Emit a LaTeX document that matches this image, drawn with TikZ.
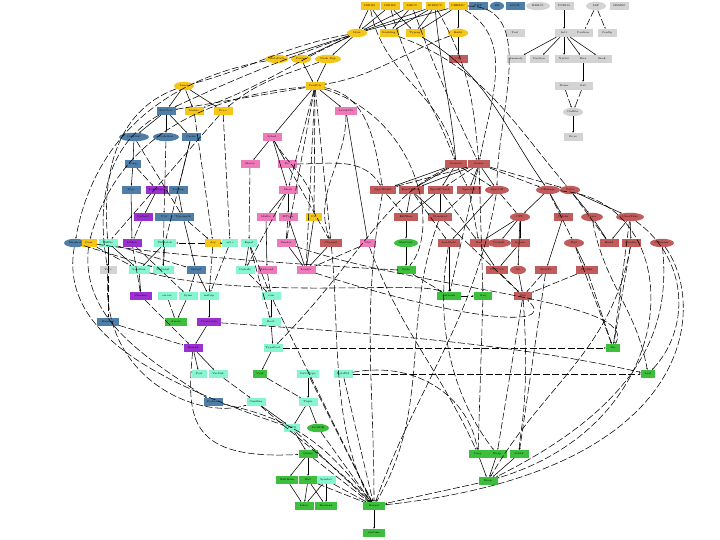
\documentclass[tikz,border=0pt]{standalone}
\usetikzlibrary{shapes.geometric,arrows.meta}
\definecolor{cY}{HTML}{F5C518}
\definecolor{cB}{HTML}{4F7FA8}
\definecolor{cG}{HTML}{D3D3D3}
\definecolor{cR}{HTML}{C25B5B}
\definecolor{cP}{HTML}{EE7AB9}
\definecolor{cC}{HTML}{87F5CF}
\definecolor{cU}{HTML}{9B30D0}
\definecolor{cN}{HTML}{3DBE3D}
\begin{document}
\begin{tikzpicture}[x=1pt,y=-1pt,
 lab/.style={font=\fontsize{2.6}{3}\selectfont, text=black},
 bx/.style={lab,rectangle,inner sep=1pt,minimum height=8pt,minimum width=19pt},
 el/.style={lab,ellipse,inner sep=0.4pt,minimum height=8.5pt,minimum width=20pt},
 fy/.style={fill=cY}, fb/.style={fill=cB}, fg/.style={fill=cG}, fr/.style={fill=cR},
 fp/.style={fill=cP}, fc/.style={fill=cC}, fu/.style={fill=cU}, fn/.style={fill=cN},
 ln/.style={line width=0.55pt,-{Stealth[length=1.8pt,width=1.4pt]}},
 dl/.style={ln,dash pattern=on 7pt off 2.5pt}]
\useasboundingbox (0,0) rectangle (720,540);
% ---- row 6
\node[bx,fy] (t1) at (370,6) {IDRIS1};
\node[bx,fy] (t2) at (390,6) {IDRIS2};
\node[bx,fy] (t3) at (412,6) {LIBCC};
\node[bx,fy] (t4) at (435,6) {IDRISCC};
\node[bx,fy] (t5) at (458,6) {CHEZSC};
\node[bx,fb] (t6) at (478,6) {GMP};
\node[el,fb,minimum width=14pt] (t7) at (497,6) {RB};
\node[bx,fb] (t8) at (515,6) {LLVM};
\node[el,fg,minimum width=24pt] (t9) at (538,6) {HDBC1};
\node[bx,fg] (t10) at (564,6) {UNIX10};
\node[el,fg] (t11) at (596,6) {LSP};
\node[bx,fg] (t12) at (619,6) {MSMS2};
% ---- row 33
\node[el,fy] (idris) at (357,33) {Idris};
\node[bx,fy] (bld) at (389,33) {Building};
\node[bx,fy] (typ) at (415,33) {Typing};
\node[el,fy] (build) at (458,33) {Build};
\node[bx,fg] (pool) at (515,33) {Pool};
\node[bx,fg] (intl) at (564,33) {Intl};
\node[bx,fg] (caut) at (583,33) {Caution};
\node[bx,fg] (conf) at (607,33) {Config};
% ---- row 59
\node[el,fy] (meta) at (277,59) {MetaData};
\node[el,fy] (pars) at (301,59) {Parser};
\node[el,fy,minimum width=26pt] (ndep) at (328,59) {Node Dep};
\node[bx,fr] (cg) at (458,59) {CG};
\node[bx,fg] (anom) at (516,59) {Anomaly};
\node[bx,fg] (days) at (539,59) {DaySyn};
\node[bx,fg] (nyg) at (564,59) {NyGet};
\node[bx,fg] (maxn) at (583,59) {Max};
\node[bx,fg] (brok) at (602,59) {Brok};
% ---- row 86
\node[el,fy] (lexer) at (184,86) {Lexer};
\node[bx,fy] (pass) at (315,86) {PassFile};
\node[bx,fg] (dome) at (564,86) {Dome};
\node[bx,fg] (out) at (583,86) {Out};
% ---- row 111
\node[bx,fb] (ttool) at (166,111) {TestTool};
\node[bx,fy] (linker) at (194,111) {Linker};
\node[bx,fy] (prec) at (223,111) {Pre.c};
\node[bx,fp,minimum width=22pt] (latch) at (346,111) {LatchCtx};
\node[el,fg] (outf) at (573,112) {OutFor};
% ---- row 137
\node[el,fb,minimum width=30pt] (core) at (134,137) {Core.Rst};
\node[el,fb,minimum width=26pt] (codeg) at (166,137) {CodeGen};
\node[bx,fb] (cache) at (191,137) {Cache};
\node[bx,fp] (sched) at (272,137) {Sched};
\node[bx,fg] (fers) at (573,137) {Fe.rs};
% ---- row 164
\node[bx,fb,minimum width=16pt] (lang) at (133,164) {Lang};
\node[bx,fp] (macro) at (250,164) {Macro};
\node[bx,fp] (fo) at (287,164) {Fo};
\node[bx,fr,minimum width=22pt] (red1) at (456,164) {Convert};
\node[bx,fr,minimum width=22pt] (red2) at (479,164) {Lower};
% ---- row 190
\node[bx,fb] (type) at (131,190) {Type};
\node[bx,fu,minimum width=22pt] (lazy) at (157,190) {LazyFence};
\node[bx,fb] (testg) at (178,190) {Testing};
\node[bx,fp] (ident) at (288,190) {Ident};
\node[bx,fr,minimum width=26pt] (specw) at (383,190) {SpecWorld};
\node[bx,fr,minimum width=25pt] (exact) at (411,190) {ExactMatch};
\node[bx,fr,minimum width=25pt] (specm) at (440,190) {SpecMCheck};
\node[bx,fr,minimum width=24pt] (spect) at (469,190) {Spectral};
\node[el,fr,minimum width=24pt] (spech) at (497,190) {SpecCH};
\node[el,fr,minimum width=24pt] (crun) at (548,190) {CRunner};
\node[el,fr] (color) at (570,190) {Color};
% ---- row 217
\node[bx,fu] (upn) at (143,217) {UpNext};
\node[bx,fb] (util) at (164,217) {Util};
\node[bx,fb,minimum width=21pt] (tmath) at (183,217) {Typemath};
\node[bx,fp] (idxr) at (266,217) {IdxRe};
\node[bx,fp] (mtype) at (288,217) {MType};
\node[bx,fy,minimum width=16pt] (par) at (314,217) {Par};
\node[bx,fr,minimum width=24pt] (extsh) at (406,217) {ExtShoe};
\node[bx,fr,minimum width=24pt] (stand) at (440,217) {Standard};
\node[el,fr] (cpu) at (520,217) {CPU};
\node[bx,fr] (cmake) at (563,217) {CMake};
\node[el,fr,minimum width=22pt] (cover) at (592,217) {Cover};
\node[el,fr,minimum width=28pt] (ctake) at (630,217) {CloseTake};
% ---- row 243
\node[el,fb,minimum width=22pt] (marsh) at (75,243) {Marshal};
\node[bx,fy,minimum width=15pt] (item) at (89,243) {Item};
\node[bx,fc] (pfile) at (108,243) {PkFile};
\node[bx,fu] (iomon) at (132,243) {IoMon};
\node[bx,fc,minimum width=22pt] (pmatch) at (165,243) {PkMatch};
\node[bx,fy,minimum width=16pt] (ary) at (213,243) {Ary};
\node[bx,fc,minimum width=16pt] (ast) at (230,243) {ast.c};
\node[bx,fc,minimum width=16pt] (equal) at (249,243) {Equal};
\node[bx,fp] (vendor) at (286,243) {Vendor};
\node[bx,fr,minimum width=22pt] (chanl) at (331,243) {Channel};
\node[bx,fp,minimum width=16pt] (gel) at (368,243) {Gel};
\node[el,fn,minimum width=24pt] (fcont) at (406,243) {FunCont};
\node[bx,fr,minimum width=22pt] (lexst) at (449,243) {LexStats};
\node[bx,fr] (run) at (479,243) {Run};
\node[el,fr,minimum width=24pt] (consist) at (499,243) {Consist};
\node[bx,fr] (access) at (520,243) {Access};
\node[el,fr] (bpf) at (574,243) {Bpf};
\node[bx,fr] (rbuild) at (609,243) {Build};
\node[bx,fr] (qual) at (631,243) {Quality};
\node[el,fr,minimum width=24pt] (crun2) at (662,243) {CRunner};
% ---- row 270
\node[bx,fg,minimum width=17pt] (yacc) at (108,270) {Yacc};
\node[bx,fc,minimum width=21pt] (sbox) at (139,270) {Sandbox};
\node[bx,fc,minimum width=21pt] (nsub) at (163,270) {NuSubst};
\node[bx,fb] (onf) at (196,270) {Onfast};
\node[bx,fc] (orels) at (245,270) {OrderIs};
\node[bx,fp] (subst) at (267,270) {Subcard};
\node[bx,fp] (ludo) at (306,270) {Loader};
\node[bx,fn] (nodeg) at (406,270) {Node};
\node[bx,fr,minimum width=22pt] (cpuc) at (497,270) {CPUCalc};
\node[el,fr,minimum width=16pt] (sa) at (518,270) {Sa};
\node[bx,fr,minimum width=22pt] (slow) at (546,270) {SlowPa};
\node[bx,fr,minimum width=22pt] (prof) at (587,270) {Profiler};
% ---- row 296
\node[bx,fu,minimum width=22pt] (cheker) at (141,296) {Checker};
\node[bx,fc] (errs) at (167,296) {errors};
\node[bx,fc] (syms) at (188,296) {Syms};
\node[bx,fc] (mstrip) at (209,296) {mstrip};
\node[bx,fc] (cvm) at (271,296) {cvm};
\node[bx,fn,minimum width=24pt] (netw) at (449,296) {network};
\node[bx,fn,minimum width=18pt] (tree) at (483,296) {tree};
\node[bx,fr,minimum width=18pt] (dsl) at (523,296) {Dsl};
% ---- row 322
\node[bx,fb,minimum width=22pt] (memor) at (108,322) {Memory};
\node[bx,fn,minimum width=22pt] (arrow) at (176,322) {Arrow};
\node[bx,fu,minimum width=24pt] (consts) at (209,322) {Constants};
\node[bx,fc] (root) at (271,322) {Root};
% ---- row 348
\node[bx,fu] (monad) at (193,348) {Monad};
\node[bx,fc] (tpool) at (273,348) {TypePool};
\node[bx,fn,minimum width=14pt] (inc) at (613,348) {Inc};
% ---- row 374
\node[bx,fc,minimum width=15pt] (pair) at (199,374) {Pair};
\node[bx,fc] (vsub) at (218,374) {VarSub};
\node[bx,fn,minimum width=14pt] (void) at (260,374) {Void};
\node[bx,fc,minimum width=22pt] (dtype) at (308,374) {DataType};
\node[bx,fc] (dtfld) at (343,374) {DataFld};
\node[bx,fn,minimum width=14pt] (last) at (648,374) {Last};
% ---- row 402
\node[bx,fb] (prelu) at (213,402) {Prelude};
\node[bx,fc] (cmdln) at (256,402) {Cmdline};
\node[bx,fc] (tuple) at (308,402) {Tuple};
% ---- row 428
\node[bx,fc,minimum width=16pt] (fifo) at (292,428) {FIFO};
\node[el,fn,minimum width=22pt] (lcode) at (318,428) {LCODE};
% ---- row 454
\node[bx,fn] (queue) at (308,454) {Queue};
\node[bx,fn] (lazyg) at (478,454) {Lazy};
\node[bx,fn] (strap) at (497,454) {Strap};
\node[bx,fn] (scheds) at (519,454) {Sched};
% ---- row 480
\node[bx,fn,minimum width=22pt] (nullm) at (287,480) {NullMem};
\node[bx,fn] (buf) at (308,480) {Buf};
\node[bx,fc] (symb) at (326,480) {Symbol};
\node[bx,fn] (heap) at (488,481) {Heap};
% ---- row 506/533
\node[bx,fn] (infra) at (304,506) {Infra};
\node[bx,fn,minimum width=22pt] (backend) at (326,506) {Backend};
\node[bx,fn,minimum width=22pt] (kernel) at (374,506) {Kernel};
\node[bx,fn,minimum width=22pt] (runtime) at (374,533) {runtime};

% ===== solid edges
\foreach \a/\b in {t1/idris,t2/idris,t3/idris,t4/idris,t5/idris,t1/bld,t3/bld,t4/bld,t2/typ,t4/typ,t5/typ,t5/build,
 idris/meta,idris/pars,idris/ndep,pars/pass,ndep/pass,build/cg,t10/intl,
 intl/anom,intl/days,intl/nyg,intl/maxn,intl/brok,maxn/out,outf/fers,
 lexer/ttool,lexer/linker,lexer/prec,ttool/core,ttool/codeg,ttool/cache,core/lang,
 pass/latch,pass/sched,sched/macro,sched/fo,sched/ident,
 type/iomon,lazy/upn,testg/tmath,tmath/onf,pmatch/sbox,pmatch/nsub,
 mstrip/consts,consts/monad,monad/pair,monad/vsub,cvm/root,root/tpool,tpool/void,
 dtype/tuple,tuple/fifo,tuple/lcode,fifo/queue,queue/nullm,queue/buf,nullm/infra,buf/infra,buf/backend,
 symb/backend,symb/infra,kernel/runtime,lazyg/heap,strap/heap,scheds/heap,
 exact/extsh,specm/extsh,exact/stand,specm/stand,extsh/fcont,fcont/nodeg,
 cpu/run,cpu/consist,cpu/access,run/cpuc,access/cpuc,sa/dsl,bpf/prof,cover/rbuild,ctake/rbuild,ctake/qual,
 cmake/slow,spech/lexst,red1/exact,red1/specm,red2/spect,red2/spech,red1/specw,red2/exact,
 ident/idxr,ident/mtype,idxr/subst,mtype/ludo,vendor/ludo,par/ludo,chanl/ludo,
 ary/ast,equal/orels,pfile/yacc,pfile/sbox,onf/mstrip,syms/arrow,sbox/cheker,
 lang/type,cache/testg,crun/cpu,crun/cmake,color/cover,color/ctake,cpu/sa,lexst/netw,
 cmdln/fifo,latch/gel}
 \draw[ln] (\a) -- (\b);
% ===== dashed straight edges
\foreach \a/\b in {t11/caut,t11/conf,dome/outf,out/outf,
 red1/spect,red1/spech,red2/specw,red2/specm,red2/crun,red2/color,spect/stand,specw/extsh,
 pass/ident,pass/vendor,pass/par,pass/chanl,pass/ttool,pass/ludo,macro/equal,fo/chanl,
 ary/pmatch,ary/mstrip,ast/mstrip,equal/cvm,orels/cvm,subst/cvm,tmath/ary,util/nsub,upn/iomon,
 iomon/syms,iomon/cheker,item/sbox,marsh/nsub,pfile/onf,pfile/memor,onf/syms,cheker/monad,memor/monad,
 errs/arrow,gel/ludo,nodeg/netw,netw/tree,cpuc/dsl,slow/dsl,prof/dsl,qual/inc,prof/inc,ctake/inc,
 red2/netw,red2/tree,stand/dsl,dtfld/kernel,dtype/kernel,symb/kernel,heap/kernel,fifo/kernel,lcode/kernel,
 queue/kernel,buf/kernel,cvm/kernel,tree/lazyg,dsl/strap,slow/scheds,tpool/inc,dtfld/last,
 exact/lexst,specm/run,spect/run,spech/cpu,crun/bpf,color/rbuild,core/tmath,prec/pfile,linker/ary,prec/ast,
 codeg/util,cache/pmatch,lang/lazy,ident/orels,mtype/vendor,equal/root,vsub/cmdln,void/tuple}
 \draw[dl] (\a) -- (\b);
% ===== curved long edges
\draw[dl] (idris) to[out=190,in=15] (lexer);
\draw[dl] (idris) to[out=200,in=25] (ttool);
\draw[dl] (idris) to[out=205,in=20] (linker);
\draw[dl] (meta) to[out=190,in=80] (marsh);
\draw[dl] (pass) to[out=185,in=75] (item);
\draw[dl] (ndep) to[out=200,in=40] (prec);
\draw[dl] (build) to[out=200,in=10] (pass);
\draw[dl] (t1) to[out=-80,in=100] (red1);
\draw[dl] (t2) to[out=-75,in=110] (red1);
\draw[ln] (t4) to[out=-85,in=95] (red1);
\draw[dl] (t3) to[out=-70,in=115] (red2);
\draw[dl] (t4) to[out=-60,in=95] (red2);
\draw[dl] (t5) to[out=-30,in=80] (red2);
\draw[dl] (t5) to[out=0,in=90] (spech);
\draw[ln] (typ) to[out=-30,in=125] (crun);
\draw[dl] (bld) to[out=-20,in=130] (color);
\draw[dl] (pass) to[out=-10,in=100] (specw);
\draw[dl] (latch) to[out=-90,in=110] (chanl);
\draw[dl] (lexer) to[out=200,in=95] (pfile);
\draw[dl] (ttool) to[out=210,in=100] (yacc);
\draw[dl] (sched) to[out=-60,in=90] (par);
\draw[dl] (fo) to[out=0,in=120] (specw);
\draw[dl] (specw) to[out=-100,in=90] (kernel);
\draw[dl] (stand) to[out=-110,in=60] (kernel);
\draw[dl] (spech) to[out=-100,in=70] (kernel);
\draw[dl] (crun2) .. controls (705,300) and (705,470) .. (kernel);
\draw[dl] (crun) .. controls (690,200) and (690,420) .. (heap);
\draw[dl] (ctake) .. controls (690,260) and (690,330) .. (last);
\draw[dl] (cover) to[out=-80,in=100] (last);
\draw[dl] (qual) to[out=-100,in=60] (heap);
\draw[dl] (bpf) to[out=-70,in=110] (inc);
\draw[dl] (monad) .. controls (186,420) and (190,460) .. (queue);
\draw[dl] (marsh) .. controls (60,330) and (150,380) .. (fifo);
\draw[dl] (item) .. controls (80,320) and (150,360) .. (prelu);
\draw[dl] (yacc) .. controls (100,380) and (200,420) .. (cmdln);
\draw[dl] (gel) .. controls (400,330) and (440,370) .. (lazyg);
\draw[dl] (chanl) .. controls (340,330) and (330,430) .. (kernel);
\draw[dl] (vendor) .. controls (420,290) and (640,300) .. (inc);
\draw[dl] (ludo) .. controls (460,320) and (560,330) .. (dsl);
\draw[dl] (item) .. controls (200,260) and (400,270) .. (nodeg);
\draw[dl] (sbox) .. controls (250,300) and (420,280) .. (netw);
\draw[dl] (dtfld) .. controls (420,360) and (470,400) .. (lazyg);
\draw[dl] (prelu) .. controls (300,420) and (330,450) .. (kernel);
\draw[dl] (cmdln) .. controls (300,440) and (340,470) .. (kernel);
\draw[dl] (consts) .. controls (320,330) and (500,340) .. (last);
\draw[dl] (dsl) .. controls (530,400) and (520,430) .. (scheds);
\draw[dl] (lexst) .. controls (430,350) and (470,420) .. (strap);
\draw[dl] (crun2) .. controls (670,320) and (650,400) .. (heap);
\draw[dl] (red1) .. controls (380,200) and (360,260) .. (tpool);
\draw[dl] (pass) .. controls (420,120) and (440,230) .. (nodeg);
\end{tikzpicture}
\end{document}
